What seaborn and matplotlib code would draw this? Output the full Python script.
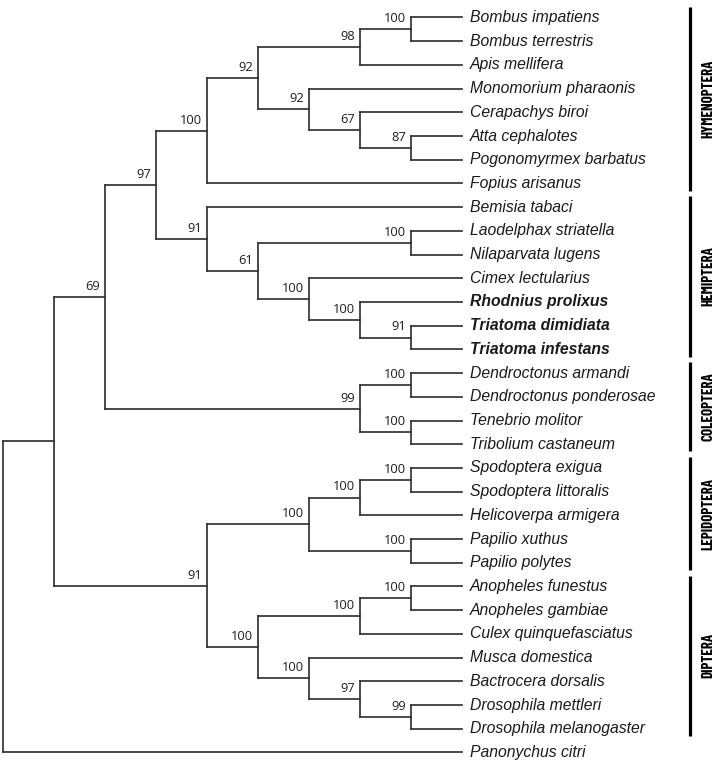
import numpy as np
import pandas as pd
import matplotlib
matplotlib.use("Agg")
import matplotlib.pyplot as plt
import seaborn as sns

# ---------------- data ----------------
leaves = ["Bombus impatiens", "Bombus terrestris", "Apis mellifera", "Monomorium pharaonis",
          "Cerapachys biroi", "Atta cephalotes", "Pogonomyrmex barbatus", "Fopius arisanus",
          "Bemisia tabaci", "Laodelphax striatella", "Nilaparvata lugens", "Cimex lectularius",
          "Rhodnius prolixus", "Triatoma dimidiata", "Triatoma infestans",
          "Dendroctonus armandi", "Dendroctonus ponderosae", "Tenebrio molitor", "Tribolium castaneum",
          "Spodoptera exigua", "Spodoptera littoralis", "Helicoverpa armigera", "Papilio xuthus",
          "Papilio polytes", "Anopheles funestus", "Anopheles gambiae", "Culex quinquefasciatus",
          "Musca domestica", "Bactrocera dorsalis", "Drosophila mettleri", "Drosophila melanogaster",
          "Panonychus citri"]
leaf_parent = [7, 7, 6, 8, 9, 10, 10, 4, 11, 13, 13, 14, 15, 16, 16,
               18, 18, 19, 19, 23, 23, 22, 24, 24, 27, 27, 26, 28, 29, 30, 30, 0]
bold_leaves = ["Rhodnius prolixus", "Triatoma dimidiata", "Triatoma infestans"]
leaf_depth = 9

# internal nodes n0..n30
node_parent = [-1, 0, 1, 2, 3, 4, 5, 6, 5, 8, 9, 3, 11, 12, 12, 14, 15, 2, 17, 17,
               1, 20, 21, 22, 21, 20, 25, 26, 25, 28, 29]
node_depth = [0, 1, 2, 3, 4, 5, 7, 8, 6, 7, 8, 4, 5, 8, 6, 7, 8, 7, 8, 8,
              4, 6, 7, 8, 8, 5, 7, 8, 6, 7, 8]
node_support = [None, None, 69, 97, 100, 92, 98, 100, 92, 67, 87, 91, 61, 100, 100, 100, 91,
                99, 100, 100, 91, 100, 100, 100, 100, 100, 100, 100, 100, 97, 99]

orders = ["HYMENOPTERA", "HEMIPTERA", "COLEOPTERA", "LEPIDOPTERA", "DIPTERA"]
order_first = [0, 8, 15, 19, 24]
order_last = [7, 14, 18, 23, 30]

# ---------------- layout computation ----------------
n_nodes = len(node_parent)
children = {i: [] for i in range(n_nodes)}
for li, p in enumerate(leaf_parent):
    children[p].append(("L", li))
for ni, p in enumerate(node_parent):
    if p >= 0:
        children[p].append(("N", ni))

node_y = {}


def get_y(kind, idx):
    if kind == "L":
        return float(idx)
    if idx in node_y:
        return node_y[idx]
    ys = [get_y(k, i) for k, i in children[idx]]
    node_y[idx] = (min(ys) + max(ys)) / 2.0
    return node_y[idx]


for i in range(n_nodes):
    get_y("N", i)

rows = []
seg = 0
for li, p in enumerate(leaf_parent):
    rows += [(seg, node_depth[p], float(li)), (seg, leaf_depth, float(li))]
    seg += 1
for ni, p in enumerate(node_parent):
    if p >= 0:
        rows += [(seg, node_depth[p], node_y[ni]), (seg, node_depth[ni], node_y[ni])]
        seg += 1
for ni in range(n_nodes):
    ys = [get_y(k, i) for k, i in children[ni]]
    rows += [(seg, node_depth[ni], min(ys)), (seg, node_depth[ni], max(ys))]
    seg += 1
df = pd.DataFrame(rows, columns=["seg", "x", "y"])

# ---------------- drawing ----------------
sns.set_theme(style="white")
fig = plt.figure(figsize=(7.17, 7.65), dpi=100)
ax = fig.add_axes([0, 0, 1, 1])

sns.lineplot(data=df, x="x", y="y", units="seg", estimator=None, sort=False,
             color="#333333", lw=1.25, solid_capstyle="projecting", ax=ax, legend=False)

for ni in range(n_nodes):
    s = node_support[ni]
    if s is None:
        continue
    ax.annotate(str(s), xy=(node_depth[ni], node_y[ni]), xytext=(-3.5, 3.0),
                textcoords="offset points", ha="right", va="bottom",
                fontsize=9.3, family="Open Sans", color="#1e1e1e")

for li, name in enumerate(leaves):
    ax.annotate(name, xy=(leaf_depth, li), xytext=(5.5, 0), textcoords="offset points",
                ha="left", va="center", fontsize=11.3, family="Liberation Sans",
                style="italic", fontweight="bold" if name in bold_leaves else "normal",
                color="#1a1a1a")

bar_x = 13.48
label_x = 13.83
bar_rows = []
for k, (a, b) in enumerate(zip(order_first, order_last)):
    bar_rows += [(k, bar_x, a - 0.45), (k, bar_x, b + 0.3)]
bdf = pd.DataFrame(bar_rows, columns=["seg", "x", "y"])
sns.lineplot(data=bdf, x="x", y="y", units="seg", estimator=None, sort=False,
             color="black", lw=2.3, solid_capstyle="butt", ax=ax, legend=False)
for k, name in enumerate(orders):
    yc = (order_first[k] - 0.45 + order_last[k] + 0.3) / 2
    ax.text(label_x, yc, name, rotation=90, ha="center", va="center",
            fontsize=10.8, fontweight="bold",
            family=["Barlow Condensed", "Barlow Semi Condensed", "Open Sans"],
            color="black")

ax.set_xlim(-3 / 51.0, 714 / 51.0)
ax.set_ylim(31.53, -0.738)
ax.axis("off")
fig.savefig("out.png", dpi=100, facecolor="white")
